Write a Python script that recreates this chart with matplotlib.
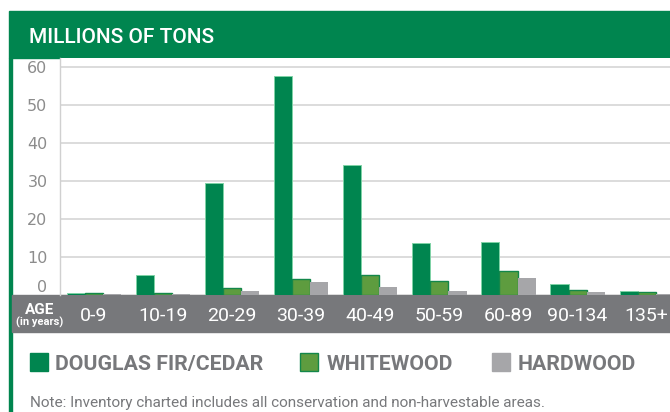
import matplotlib
matplotlib.use('Agg')
import matplotlib.pyplot as plt
from matplotlib.patches import Rectangle
import numpy as np

ages = ['0-9', '10-19', '20-29', '30-39', '40-49', '50-59', '60-89', '90-134', '135+']
douglas = [0.5, 5.2, 29.5, 57.6, 34.1, 13.6, 14.0, 2.9, 1.0]
whitewood = [0.5, 0.5, 1.9, 4.2, 5.3, 3.7, 6.3, 1.3, 0.7]
hardwood = [0.2, 0.3, 1.05, 3.4, 2.1, 1.1, 4.5, 0.8, 0.3]
yticks = [0, 10, 20, 30, 40, 50, 60]
series_names = ['DOUGLAS FIR/CEDAR', 'WHITEWOOD', 'HARDWOOD']

NF = ['Roboto', 'DejaVu Sans']

W, H = 670, 412
fig = plt.figure(figsize=(W / 100, H / 100), dpi=100)

GREEN = '#00854f'
BAND = '#77787b'
GREY_TXT = '#77787b'

def px(x0, y0, w, h):
    # pixel box (top-left origin) -> figure fraction
    return [x0 / W, 1 - (y0 + h) / H, w / W, h / H]

def box(x0, y0, w, h, **kw):
    b = px(x0, y0, w, h)
    fig.patches.append(Rectangle((b[0], b[1]), b[2], b[3], transform=fig.transFigure, **kw))

# header band + left border
box(9, 11, 661, 47, color=GREEN, zorder=-1)
box(9, 58, 2.5, 354, color=GREEN, zorder=-1)
fig.text(29 / W, 1 - 43 / H, 'MILLIONS OF TONS', color='white', fontsize=15,
         family=NF, fontweight='medium', va='baseline', ha='left')

ax = fig.add_axes(px(60, 58, 610, 237))
x = np.arange(len(ages))
bw = 0.262
ax.bar(x - bw, douglas, bw, color=GREEN, edgecolor='#7fd3a6', linewidth=0.7, zorder=3)
ax.bar(x, whitewood, bw, color='#5e9c3f', edgecolor='#13874a', linewidth=1.0, zorder=3)
ax.bar(x + bw, hardwood, bw, color='#a6a6a9', linewidth=0, zorder=3)

ax.set_xlim(-0.49, -0.49 + 610 / 69.1)
ax.set_ylim(0, 62.4)
ax.set_yticks(yticks)
ax.set_yticklabels([str(t) for t in yticks], color='#8c8c8c', fontsize=11.5)
ax.get_yticklabels()[0].set_va('bottom')
ax.tick_params(axis='y', length=0, pad=9)
ax.set_xticks([])
ax.grid(axis='y', color='#d9d9d9', linewidth=1.3, zorder=0)
for s in ['top', 'right', 'bottom']:
    ax.spines[s].set_visible(False)
ax.spines['left'].set_color('#d0d0d0')
ax.spines['left'].set_linewidth(1)

# grey age band
box(12, 295, 658, 37, color=BAND, zorder=-1)
tr = ax.get_xaxis_transform()
for xi, lab in zip(x, ages):
    ax.text(xi, -0.089, lab, transform=tr, ha='center', va='center', color='white',
            fontsize=14, family=NF, clip_on=False)
fig.text(40 / W, 1 - 309.5 / H, 'AGE', color='white', fontsize=11, fontweight='bold',
         family=NF, ha='center', va='center')
fig.text(40 / W, 1 - 322 / H, '(in years)', color='white', fontsize=8, fontweight='bold',
         family=NF, ha='center', va='center')

# legend
legend_x = [(30, 55), (300, 327), (492, 518)]
legend_cols = [(GREEN, GREEN), ('#5e9c3f', '#13874a'), ('#a6a6a9', '#a6a6a9')]
for (sx, tx), (fc, ec), name in zip(legend_x, legend_cols, series_names):
    box(sx, 353, 18, 18, facecolor=fc, edgecolor=ec, linewidth=1)
    fig.text(tx / W, 1 - 370 / H, name, color=GREY_TXT, fontsize=15.3, fontweight='bold',
             family=NF, ha='left', va='baseline')

fig.text(30 / W, 1 - 407 / H,
         'Note: Inventory charted includes all conservation and non-harvestable areas.',
         color=GREY_TXT, fontsize=11, family=NF, ha='left', va='baseline')

fig.savefig('out.png', dpi=100)
